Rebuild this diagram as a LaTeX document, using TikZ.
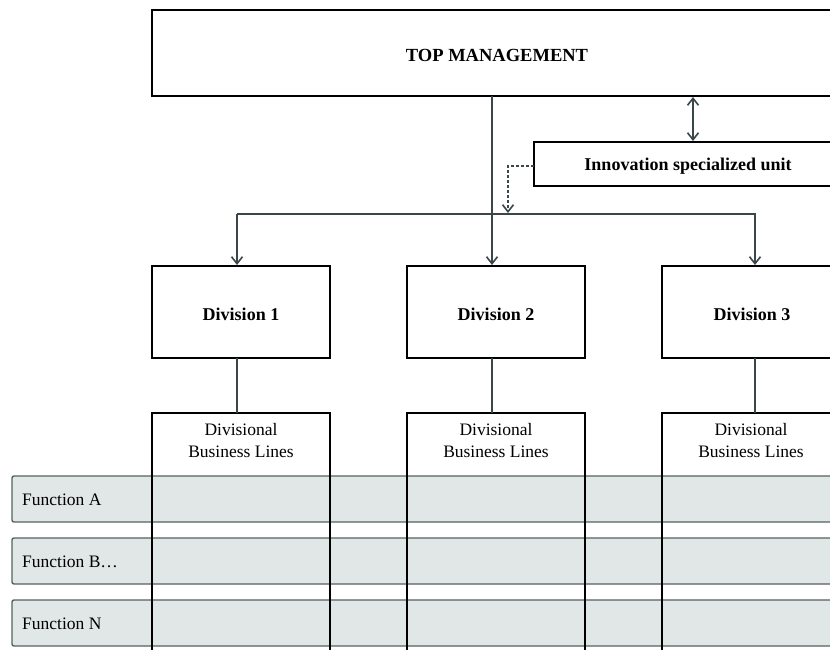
\documentclass[tikz,border=0pt]{standalone}
\usepackage{fontspec}
\setmainfont{Liberation Serif}
\usetikzlibrary{arrows.meta}
\definecolor{conn}{HTML}{3A4648}
\definecolor{rowfill}{HTML}{E1E6E6}
\definecolor{rowline}{HTML}{56625F}
\tikzset{
  box/.style={draw=black, line width=2.2pt, fill=white},
  conline/.style={draw=conn, line width=1.4pt},
  tipb/.tip={Straight Barb[length=7pt,width=11pt,line width=1.6pt]},
  arr/.style={-tipb},
  dblarr/.style={tipb-tipb},
  rowbox/.style={draw=rowline, line width=1.4pt, fill=rowfill, rounded corners=2pt},
  lbl/.style={font=\fontsize{18}{21}\selectfont\bfseries, inner sep=0pt},
  reg/.style={font=\fontsize{17.5}{22}\selectfont, inner sep=0pt, align=center},
}
\begin{document}
\begin{tikzpicture}[x=1pt,y=-1pt]
\useasboundingbox (0,0) rectangle (830,650);
\clip (0,0) rectangle (830,650);
% top management
\draw[box] (152,10) rectangle (845,96);
\node[lbl, font=\fontsize{18.5}{22}\selectfont\bfseries] (top) at (497,55) {TOP MANAGEMENT};
\coordinate (topS) at (492,96);
\coordinate (topSE) at (693,97);
% innovation unit
\draw[box] (534,142) rectangle (845,186);
\node[lbl] (inno) at (688,166) {Innovation specialized unit};
\coordinate (innoN) at (693,141);
\coordinate (innoW) at (534,166);
% divisions
\foreach \i/\x in {1/152, 2/407, 3/662}{
  \draw[box] (\x,266) rectangle ++(178,92);
}
\node[lbl] (d1) at (241,314) {Division 1};
\node[lbl] (d2) at (496,314) {Division 2};
\node[lbl] (d3) at (752,314) {Division 3};
\coordinate (d1N) at (237,265);
\coordinate (d2N) at (492,265);
\coordinate (d3N) at (755,265);
\coordinate (d1S) at (237,358);
\coordinate (d2S) at (492,358);
\coordinate (d3S) at (755,358);
% business line columns fill
\foreach \x in {152,407,662}{
  \fill[white] (\x,413) rectangle ++(178,250);
}
% function rows
\foreach \y in {476,538,600}{
  \draw[rowbox] (12,\y) rectangle (860,\y+46);
}
\node[reg, anchor=west] (fa) at (22,500) {Function A};
\node[reg, anchor=west] (fb) at (22,562) {Function B…};
\node[reg, anchor=west] (fn) at (22,624) {Function N};
% columns borders
\foreach \x in {152,407,662}{
  \draw[black, line width=2.2pt] (\x,670) -- (\x,413) -- (\x+178,413) -- (\x+178,670);
}
\node[reg] (b1) at (241,441) {Divisional\\Business Lines};
\node[reg] (b2) at (496,441) {Divisional\\Business Lines};
\node[reg] (b3) at (751,441) {Divisional\\Business Lines};
\coordinate (b1N) at (237,413);
\coordinate (b2N) at (492,413);
\coordinate (b3N) at (755,413);
% connectors
\draw[conline, arr] (topS) -- (d2N);
\draw[conline, arr] (237,214) -- (d1N);
\draw[conline, arr] (237,214) -- (755,214) -- (d3N);
\draw[conline, dblarr] (topSE) -- (innoN);
\draw[conn, line width=1.3pt, dash pattern=on 3pt off 2pt, arr] (innoW) -- (508,166) -- (508,213);
\draw[conline] (d1S) -- (b1N);
\draw[conline] (d2S) -- (b2N);
\draw[conline] (d3S) -- (b3N);
\end{tikzpicture}
\end{document}
